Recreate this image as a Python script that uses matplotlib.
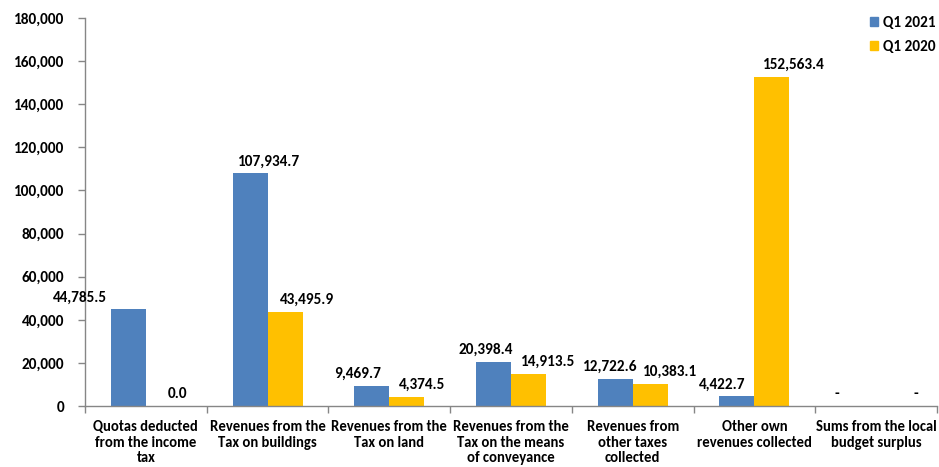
import matplotlib.pyplot as plt
from matplotlib.patches import Patch
import numpy as np

categories = [
    "Quotas deducted\nfrom the income\ntax",
    "Revenues from the\nTax on buildings",
    "Revenues from the\nTax on land",
    "Revenues from the\nTax on the means\nof conveyance",
    "Revenues from\nother taxes\ncollected",
    "Other own\nrevenues collected",
    "Sums from the local\nbudget surplus",
]
q1_2021 = [44785.5, 107934.7, 9469.7, 20398.4, 12722.6, 4422.7, 0.0]
q1_2020 = [0.0, 43495.9, 4374.5, 14913.5, 10383.1, 152563.4, 0.0]
labels_2021 = ["44,785.5", "107,934.7", "9,469.7", "20,398.4", "12,722.6", "4,422.7", "-"]
labels_2020 = ["0.0", "43,495.9", "4,374.5", "14,913.5", "10,383.1", "152,563.4", "-"]

# decalage horizontal des etiquettes (pixels), comme dans l'original
dx_2021 = [-48, 19, -14, -8, -5, -15, -22]
dx_2020 = [14, 22, 15, 20, 20, 22, 22]

bleu = "#4F81BD"
jaune = "#FFC000"
gris = "#868686"
police = "Carlito"
taille = 11

plt.rcParams["font.family"] = [police, "DejaVu Sans"]
plt.rcParams["font.weight"] = "bold"

fig = plt.figure(figsize=(9.39, 4.67), dpi=100)
ax = fig.add_axes([85 / 939, 1 - 406 / 467, 852 / 939, 388 / 467])

x = np.arange(len(categories))
w = 0.288
b1 = ax.bar(x - w / 2, q1_2021, w, color=bleu)
b2 = ax.bar(x + w / 2, q1_2020, w, color=jaune)

for rect, txt, dx in zip(b1, labels_2021, dx_2021):
    ax.annotate(txt, (rect.get_x() + rect.get_width() / 2, rect.get_height()),
                xytext=(dx, 5), textcoords="offset pixels", ha="center", va="bottom",
                fontsize=taille, fontweight="bold")
for rect, txt, dx in zip(b2, labels_2020, dx_2020):
    ax.annotate(txt, (rect.get_x() + rect.get_width() / 2, rect.get_height()),
                xytext=(dx, 5), textcoords="offset pixels", ha="center", va="bottom",
                fontsize=taille, fontweight="bold")

ax.set_xlim(-0.5, len(categories) - 0.5)
ax.set_ylim(0, 180000)
ax.set_yticks(np.arange(0, 180001, 20000))
ax.set_yticklabels([f"{v:,}" for v in range(0, 180001, 20000)])

ax.set_xticks(x)
ax.set_xticklabels(categories, fontsize=10.5, fontweight="bold", linespacing=1.15)
ax.set_xticks(np.arange(-0.5, len(categories)), minor=True)
ax.tick_params(axis="x", which="major", length=0, pad=10)
ax.tick_params(axis="x", which="minor", length=5, color=gris, width=1)
ax.tick_params(axis="y", length=5, color=gris, width=1, pad=10, labelsize=taille)

for s in ["top", "right"]:
    ax.spines[s].set_visible(False)
for s in ["left", "bottom"]:
    ax.spines[s].set_color(gris)
    ax.spines[s].set_linewidth(1)

handles = [Patch(color=bleu), Patch(color=jaune)]
fig.legend(handles, ["Q1 2021", "Q1 2020"], loc="upper left",
           bbox_to_anchor=(856 / 939, 1 - 2 / 467), frameon=False,
           handlelength=0.55, handleheight=0.55, handletextpad=0.3,
           labelspacing=0.65, prop={"family": police, "weight": "bold", "size": taille})

fig.savefig("out.png", dpi=100)
